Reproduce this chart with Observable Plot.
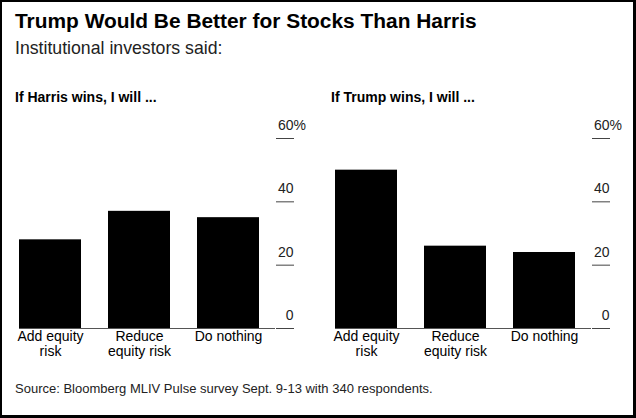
<!DOCTYPE html>
<html>
<head>
<meta charset="utf-8">
<script src="https://cdn.jsdelivr.net/npm/d3@7"></script>
<script src="https://cdn.jsdelivr.net/npm/@observablehq/plot@0.6"></script>
<style>
  html, body { margin: 0; padding: 0; background: #fff; }
  body { width: 636px; height: 418px; position: relative; overflow: hidden; font-family: "Liberation Sans", Arial, sans-serif; }
  #frame { position: absolute; left: 0; top: 0; width: 636px; height: 418px; box-sizing: border-box; border-style: solid; border-color: #000; border-width: 2px 3px 3px 2px; pointer-events: none; z-index: 5; }
  .title { position: absolute; left: 15px; top: 9px; font-size: 20.9px; font-weight: bold; line-height: 24px; color: #000; white-space: nowrap; }
  .subtitle { position: absolute; left: 15px; top: 38px; font-size: 17.7px; line-height: 20px; color: #222; white-space: nowrap; }
  .ptitle { position: absolute; top: 89px; font-size: 14px; font-weight: bold; line-height: 16px; color: #000; white-space: nowrap; }
  .panel { position: absolute; top: 110px; width: 316px; }
  .source { position: absolute; left: 15px; top: 381px; font-size: 13px; line-height: 16px; color: #222; white-space: nowrap; }
</style>
</head>
<body>
<div id="frame"></div>
<div class="title">Trump Would Be Better for Stocks Than Harris</div>
<div class="subtitle">Institutional investors said:</div>
<div class="ptitle" style="left:15px">If Harris wins, I will ...</div>
<div class="ptitle" style="left:331px">If Trump wins, I will ...</div>
<div class="panel" id="left" style="left:0px"></div>
<div class="panel" id="right" style="left:316px"></div>
<div class="source">Source: Bloomberg MLIV Pulse survey Sept. 9-13 with 340 respondents.</div>
<script>
const categories = ["Add equity risk", "Reduce equity risk", "Do nothing"];
const categoryLabels = ["Add equity\nrisk", "Reduce\nequity risk", "Do nothing"];
const harrisValues = [28, 37, 35];
const trumpValues = [50, 26, 24];
const yTicks = [0, 20, 40, 60];

function panel(values) {
  const data = categories.map((c, i) => ({category: c, value: values[i]}));
  const labelOf = new Map(categories.map((c, i) => [c, categoryLabels[i]]));
  return Plot.plot({
    width: 316,
    height: 260,
    marginTop: 28,
    marginBottom: 42,
    marginLeft: 19,
    marginRight: 41,
    style: {fontFamily: '"Liberation Sans", Arial, sans-serif', fontSize: "14px", background: "transparent", color: "#000"},
    x: {domain: categories, paddingInner: 0.302, paddingOuter: 0.081, align: 0, label: null},
    y: {domain: [0, 60], label: null},
    marks: [
      Plot.barY(data, {x: "category", y: "value", fill: "#000"}),
      Plot.ruleY([0], {stroke: "#555", strokeWidth: 1}),
      Plot.axisY({anchor: "right", ticks: yTicks, tickSize: 18, tickFormat: () => "", stroke: "#444", label: null}),
      Plot.text(yTicks, {y: d => d, text: d => String(d), frameAnchor: "right", dx: 18, dy: -13, textAnchor: "end", fill: "#222", fontSize: 14}),
      Plot.text([60], {y: d => d, text: () => "%", frameAnchor: "right", dx: 18, dy: -13, textAnchor: "start", fill: "#222", fontSize: 14}),
      Plot.axisX({anchor: "bottom", tickSize: 0, tickPadding: 2, tickFormat: c => labelOf.get(c), lineHeight: 1.07, fontSize: 14, fill: "#000", label: null})
    ]
  });
}

document.getElementById("left").appendChild(panel(harrisValues));
document.getElementById("right").appendChild(panel(trumpValues));
</script>
</body>
</html>
